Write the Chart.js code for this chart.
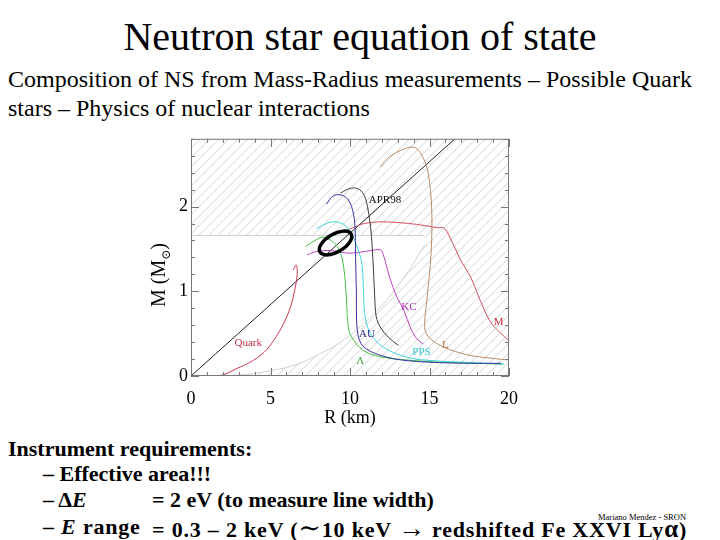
<!DOCTYPE html>
<html>
<head>
<meta charset="utf-8">
<title>Neutron star equation of state</title>
<script src="https://cdn.jsdelivr.net/npm/chart.js@4.4.1/dist/chart.umd.min.js"></script>
<style>
    body {
        margin: 0;
        width: 720px;
        height: 540px;
        overflow: hidden;
        position: relative;
        background: #fff;
        color: #000;
        font-family: 'Liberation Serif', 'DejaVu Serif', serif;
    }
    .t { position: absolute; white-space: nowrap; line-height: 1; }
    .b { font-weight: bold; font-size: 22px; }
    .sym { font-size: 27px; font-weight: normal; line-height: 0; }
    #chartBox { position: absolute; left: 130px; top: 125px; width: 400px; height: 305px; }
</style>
</head>
<body>
<div class="t" style="left:0; width:720px; top:17px; text-align:center; font-size:40px;">Neutron star equation of state</div>
<div class="t" style="left:8px; top:67px; font-size:24px;">Composition of NS from Mass-Radius measurements – Possible Quark</div>
<div class="t" style="left:8px; top:96px; font-size:24px;">stars – Physics of nuclear interactions</div>

<div id="chartBox"><canvas id="mrChart" width="400" height="305"></canvas></div>
<div class="t" style="left:110px; top:263px; width:100px; text-align:center; font-size:20px; transform:rotate(-90deg); transform-origin:50% 50%;">M (M<sub style="font-size:12px;">⊙</sub>)</div>
<div class="t" style="left:300px; top:408px; width:100px; text-align:center; font-size:18px;">R (km)</div>

<div class="t b" style="left:8px; top:438px;">Instrument requirements:</div>
<div class="t b" style="left:43px; top:463px;">– Effective area!!!</div>
<div class="t b" style="left:43px; top:489px;">– Δ<i>E</i></div>
<div class="t b" style="left:152px; top:489px;">= 2 eV (to measure line width)</div>
<div class="t b" style="left:43px; top:516px; letter-spacing:0.8px;">– <i>E</i> range</div>
<div class="t b" style="left:152px; top:516px; letter-spacing:0.8px;">= 0.3 – 2 keV (<span class="sym">∼</span>10 keV <span class="sym">→</span> redshifted Fe XXVI Ly<span style="font-size:25px;">α</span>)</div>
<div class="t" style="left:598px; top:513px; font-size:8.5px;">Mariano Mendez - SRON</div>

<script>
// mass-radius curves: R in km, M in solar masses
const quarkR = [0.95, 1.95, 2.9, 3.7, 4.6, 5.2, 5.8, 6.25, 6.55, 6.68, 6.62, 6.42];
const quarkM = [0.0, 0.01, 0.09, 0.16, 0.28, 0.42, 0.61, 0.81, 1.04, 1.2, 1.31, 1.25];

const aprR = [9.4, 9.8, 10.2, 10.6, 10.9, 11.1, 11.3, 11.45, 11.55, 11.65, 11.9, 12.4, 13.05];
const aprM = [2.16, 2.2, 2.22, 2.2, 2.13, 2.0, 1.75, 1.35, 0.95, 0.7, 0.58, 0.46, 0.36];

const auR = [8.53, 8.9, 9.37, 9.8, 10.1, 10.3, 10.35, 10.4, 10.45, 10.7, 11.2, 12.0, 13.2, 15.3, 17.5, 19.5];
const auM = [2.03, 2.12, 2.14, 2.1, 2.0, 1.8, 1.4, 1.0, 0.55, 0.38, 0.3, 0.24, 0.19, 0.16, 0.15, 0.15];

const ppsR = [7.9, 8.4, 8.95, 9.6, 10.0, 10.4, 10.75, 10.86, 10.96, 11.3, 12.1, 13.6, 15.3, 17.5, 19.7];
const ppsM = [1.74, 1.79, 1.82, 1.79, 1.71, 1.55, 1.32, 0.93, 0.69, 0.5, 0.34, 0.22, 0.18, 0.16, 0.14];

const lambdaR = [7.2, 7.8, 8.3, 8.8, 9.2, 9.5, 9.7, 9.8, 9.9, 10.1, 10.85, 12.1, 14.2, 16.3, 19.6];
const lambdaM = [1.53, 1.6, 1.64, 1.6, 1.53, 1.39, 1.12, 0.81, 0.57, 0.46, 0.3, 0.22, 0.18, 0.16, 0.14];

const kcR = [7.3, 7.9, 8.8, 10.0, 11.3, 11.9, 12.1, 12.5, 12.95, 13.4, 13.8, 14.2, 14.6];
const kcM = [1.43, 1.47, 1.48, 1.45, 1.48, 1.49, 1.43, 1.16, 0.93, 0.77, 0.57, 0.44, 0.38];

const mR = [9.6, 10.3, 10.9, 12.1, 14.2, 15.5, 15.9, 16.3, 16.9, 17.6, 18.2, 18.8, 19.5, 20.0];
const mM = [1.7, 1.76, 1.8, 1.82, 1.79, 1.75, 1.75, 1.63, 1.39, 1.16, 0.89, 0.65, 0.5, 0.42];

const lR = [11.9, 12.5, 13.4, 14.0, 14.4, 14.85, 15.1, 15.15, 15.05, 14.85, 14.7, 14.95, 15.9, 17.4, 18.4, 19.9];
const lM = [2.47, 2.59, 2.68, 2.7, 2.64, 2.45, 2.1, 1.71, 1.32, 0.93, 0.57, 0.46, 0.34, 0.25, 0.22, 0.19];

// constraints: diagonal line, horizontal mass limit, lower-right limit curve
const diagR = [0, 16.6];
const diagM = [0, 2.8];
const upperR = [0, 14.7];
const upperM = [1.66, 1.66];
const limitR = [0, 2, 4, 6, 7, 8, 9, 10, 11, 12, 13, 14, 14.7];
const limitM = [0, 0, 0.03, 0.1, 0.16, 0.25, 0.35, 0.48, 0.64, 0.83, 1.06, 1.33, 1.55];

// measured point (circled)
const markR = 9.09;
const markM = 1.57;

const xTickLabels = [0, 5, 10, 15, 20];
const yTickLabels = [0, 1, 2];

const curveLabels = [
    { text: 'Quark', r: 3.6, m: 0.39, color: '#c0304a' },
    { text: 'APR98', r: 12.2, m: 2.08, color: '#111' },
    { text: 'AU', r: 11.07, m: 0.49, color: '#2a2a96' },
    { text: 'PPS', r: 14.5, m: 0.28, color: '#2cc8d4' },
    { text: 'Λ', r: 10.65, m: 0.18, color: '#38a838' },
    { text: 'KC', r: 13.7, m: 0.81, color: '#b030b0' },
    { text: 'M', r: 19.35, m: 0.64, color: '#c83040' },
    { text: 'L', r: 16.0, m: 0.36, color: '#a87040' }
];

function pts(r, m) {
    return r.map((v, i) => ({ x: v, y: m[i] }));
}

function curve(label, r, m, color, tension) {
    return {
        label: label,
        data: pts(r, m),
        borderColor: color,
        borderWidth: 1,
        pointRadius: 0,
        tension: tension === undefined ? 0.35 : tension,
        fill: false
    };
}

// diagonal hatching over the excluded regions
const hatchPlugin = {
    id: 'hatch',
    beforeDatasetsDraw(chart) {
        const { ctx, chartArea: a, scales: { x, y } } = chart;
        ctx.save();
        ctx.beginPath();
        ctx.rect(a.left, a.top, a.right - a.left, a.bottom - a.top);
        ctx.moveTo(x.getPixelForValue(0), y.getPixelForValue(0));
        ctx.lineTo(x.getPixelForValue(upperR[0]), y.getPixelForValue(upperM[0]));
        ctx.lineTo(x.getPixelForValue(upperR[1]), y.getPixelForValue(upperM[1]));
        for (let i = limitR.length - 1; i >= 0; i--) {
            ctx.lineTo(x.getPixelForValue(limitR[i]), y.getPixelForValue(limitM[i]));
        }
        ctx.closePath();
        ctx.clip('evenodd');
        ctx.strokeStyle = '#d2d2d2';
        ctx.lineWidth = 1;
        ctx.beginPath();
        const h = a.bottom - a.top;
        for (let px = a.left - h; px < a.right; px += 9.5) {
            ctx.moveTo(px, a.bottom);
            ctx.lineTo(px + h, a.top);
        }
        ctx.stroke();
        ctx.restore();
    }
};

// frame with inward ticks on all four sides, curve labels and the circle
const framePlugin = {
    id: 'frame',
    afterDatasetsDraw(chart) {
        const { ctx, chartArea: a, scales: { x, y } } = chart;
        ctx.save();
        ctx.strokeStyle = '#777';
        ctx.lineWidth = 1;
        ctx.strokeRect(a.left + 0.5, a.top + 0.5, a.right - a.left - 1, a.bottom - a.top - 1);
        ctx.beginPath();
        x.ticks.forEach(t => {
            const px = Math.round(x.getPixelForValue(t.value)) + 0.5;
            const len = t.label !== '' ? 8 : 4;
            ctx.moveTo(px, a.bottom);
            ctx.lineTo(px, a.bottom - len);
            ctx.moveTo(px, a.top);
            ctx.lineTo(px, a.top + len);
        });
        y.ticks.forEach(t => {
            const py = Math.round(y.getPixelForValue(t.value)) + 0.5;
            const len = t.label !== '' ? 8 : 4;
            ctx.moveTo(a.left, py);
            ctx.lineTo(a.left + len, py);
            ctx.moveTo(a.right, py);
            ctx.lineTo(a.right - len, py);
        });
        ctx.stroke();

        ctx.font = '11px "Liberation Serif"';
        ctx.textAlign = 'center';
        ctx.textBaseline = 'middle';
        curveLabels.forEach(l => {
            ctx.fillStyle = l.color;
            ctx.fillText(l.text, x.getPixelForValue(l.r), y.getPixelForValue(l.m));
        });

        ctx.strokeStyle = '#000';
        ctx.lineWidth = 3.5;
        ctx.beginPath();
        ctx.ellipse(x.getPixelForValue(markR), y.getPixelForValue(markM), 18, 9, -Math.PI / 6, 0, Math.PI * 2);
        ctx.stroke();
        ctx.restore();
    }
};

new Chart(document.getElementById('mrChart'), {
    type: 'line',
    data: {
        datasets: [
            curve('Quark', quarkR, quarkM, '#c83a50'),
            curve('APR98', aprR, aprM, '#3a3a3a'),
            curve('AU', auR, auM, '#3434a0'),
            curve('PPS', ppsR, ppsM, '#40d4dc'),
            curve('Lambda', lambdaR, lambdaM, '#48c048'),
            curve('KC', kcR, kcM, '#c040c0'),
            curve('M', mR, mM, '#d05060'),
            curve('L', lR, lM, '#b88a62'),
            curve('causality', diagR, diagM, '#222', 0),
            curve('upper', upperR, upperM, '#cfcfcf', 0),
            curve('limit', limitR, limitM, '#cfcfcf', 0.2)
        ]
    },
    options: {
        responsive: false,
        animation: false,
        devicePixelRatio: 1,
        layout: { padding: { left: 13, right: 21, top: 5, bottom: 10 } },
        plugins: {
            legend: { display: false },
            tooltip: { enabled: false }
        },
        scales: {
            x: {
                type: 'linear',
                min: 0,
                max: 20,
                grid: { display: false, drawTicks: false },
                border: { display: false },
                afterFit: s => { s.height = 44; },
                ticks: {
                    stepSize: 1,
                    autoSkip: false,
                    maxRotation: 0,
                    padding: 12,
                    color: '#000',
                    font: { family: 'Liberation Serif', size: 18 },
                    callback: v => (xTickLabels.includes(v) ? String(v) : '')
                }
            },
            y: {
                type: 'linear',
                min: 0,
                max: 2.8,
                grid: { display: false, drawTicks: false },
                border: { display: false },
                afterFit: s => { s.width = 48; },
                ticks: {
                    stepSize: 0.2,
                    autoSkip: false,
                    padding: 3,
                    color: '#000',
                    font: { family: 'Liberation Serif', size: 18 },
                    callback: v => {
                        const hit = yTickLabels.find(t => Math.abs(t - v) < 1e-6);
                        return hit === undefined ? '' : String(hit);
                    }
                }
            }
        }
    },
    plugins: [hatchPlugin, framePlugin]
});
</script>
</body>
</html>
